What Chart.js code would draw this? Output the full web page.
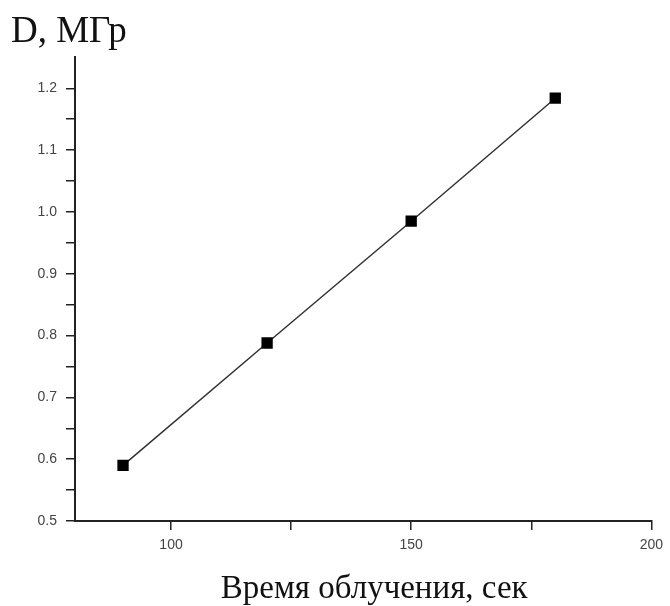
<!DOCTYPE html>
<html>
<head>
<meta charset="utf-8">
<script src="https://cdn.jsdelivr.net/npm/chart.js@4/dist/chart.umd.min.js"></script>
<style>
html,body{margin:0;padding:0;background:#fff;}
#wrap{width:670px;height:606px;}
</style>
</head>
<body>
<div id="wrap"><canvas id="c" width="670" height="606"></canvas></div>
<script>
const timeSec = [90, 120, 150, 180];
const doseMGy = [0.59, 0.788, 0.985, 1.184];
const xTicks = [100, 125, 150, 175, 200];
const xLabelTicks = [100, 150, 200];
const yTicks = [0.5, 0.55, 0.6, 0.65, 0.7, 0.75, 0.8, 0.85, 0.9, 0.95, 1.0, 1.05, 1.1, 1.15, 1.2];
const yLabelTicks = [0.5, 0.6, 0.7, 0.8, 0.9, 1.0, 1.1, 1.2];
const xTitle = 'Время облучения, сек';
const yTitle = 'D, МГр';

const near = (arr, v) => arr.some(a => Math.abs(a - v) < 1e-6);

const xTitlePlugin = {
  id: 'xTitlePlugin',
  afterDraw(chart) {
    const ctx = chart.ctx;
    const sx = chart.scales.x;
    ctx.save();
    ctx.font = '33px "Liberation Serif"';
    ctx.fillStyle = '#111';
    ctx.textAlign = 'center';
    ctx.textBaseline = 'alphabetic';
    ctx.fillText(xTitle, (sx.left + sx.right) / 2 + 11, sx.bottom - 8);
    ctx.restore();
  }
};

new Chart(document.getElementById('c'), {
  type: 'scatter',
  data: {
    datasets: [{
      data: timeSec.map((t, i) => ({x: t, y: doseMGy[i]})),
      showLine: true,
      borderColor: '#333',
      borderWidth: 1.5,
      backgroundColor: '#000',
      pointStyle: 'rect',
      pointRadius: 8,
      pointHoverRadius: 8,
      pointBorderWidth: 0
    }]
  },
  plugins: [xTitlePlugin],
  options: {
    responsive: false,
    animation: false,
    devicePixelRatio: 1,
    layout: {padding: {left: 11, right: 18, top: 0, bottom: 0}},
    plugins: {
      legend: {display: false},
      tooltip: {enabled: false},
      title: {
        display: true,
        text: yTitle,
        align: 'start',
        color: '#111',
        font: {family: 'Liberation Serif', size: 37, weight: 'normal'},
        padding: {top: 10, bottom: 3}
      }
    },
    scales: {
      x: {
        type: 'linear',
        min: 80, max: 200,
        afterBuildTicks: s => { s.ticks = xTicks.map(v => ({value: v})); },
        afterFit: s => { s.height = 85; },
        border: {display: true, color: '#222', width: 2},
        grid: {drawOnChartArea: false, drawTicks: true, tickLength: 9, color: '#222', lineWidth: 1.5},
        ticks: {
          color: '#444',
          padding: 7,
          maxRotation: 0,
          autoSkip: false,
          font: {family: 'Liberation Sans', size: 14},
          callback: v => near(xLabelTicks, v) ? String(v) : ''
        },
        title: {display: false}
      },
      y: {
        type: 'linear',
        min: 0.5, max: 1.25,
        afterBuildTicks: s => { s.ticks = yTicks.map(v => ({value: v})); },
        afterFit: s => { s.width = 64; },
        border: {display: true, color: '#222', width: 2},
        grid: {drawOnChartArea: false, drawTicks: true, tickLength: 9, color: '#222', lineWidth: 1.5},
        ticks: {
          color: '#444',
          padding: 9,
          autoSkip: false,
          font: {family: 'Liberation Sans', size: 14},
          callback: v => near(yLabelTicks, v) ? v.toFixed(1) : ''
        }
      }
    }
  }
});
</script>
</body>
</html>
